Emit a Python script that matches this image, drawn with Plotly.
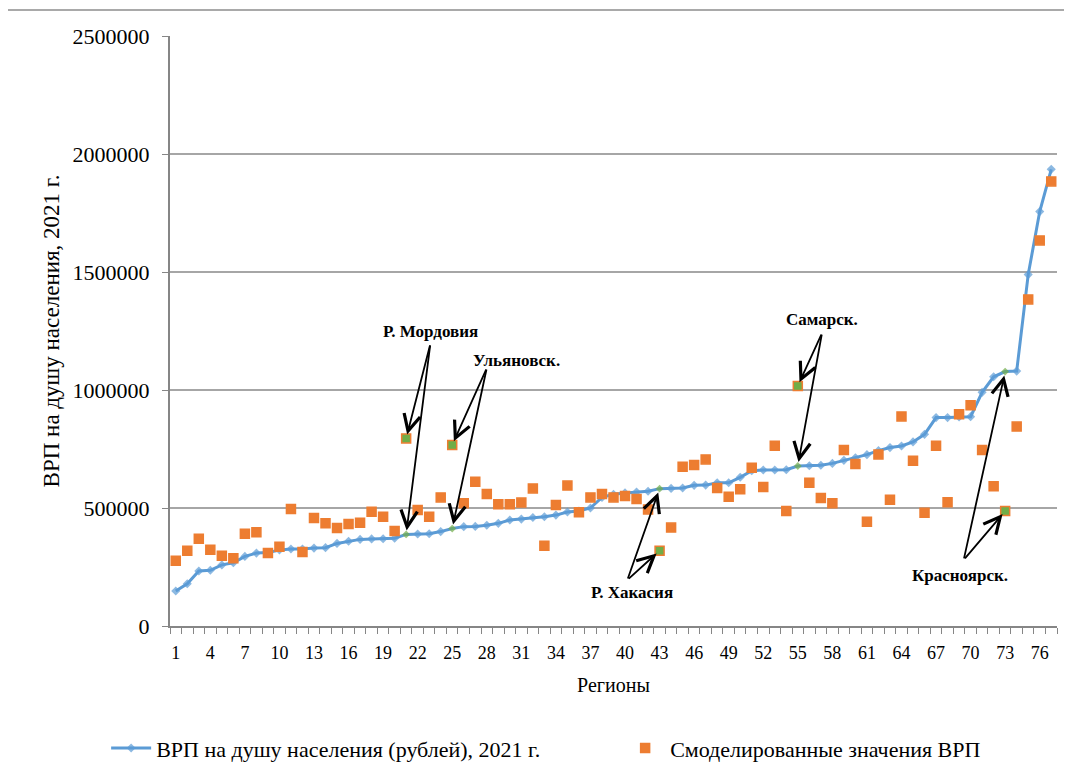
import plotly.graph_objects as go

# ---- data ----
regions = list(range(1, 78))

grp_actual = [148000, 179000, 233000, 236000, 259000, 268000, 295000, 309000, 311000, 322000,
              326000, 326000, 330000, 332000, 350000, 359000, 367000, 369000, 370000, 372000,
              388000, 390000, 391000, 400000, 413000, 421000, 422000, 427000, 435000, 449000,
              453000, 460000, 463000, 470000, 483000, 487000, 500000, 545000, 558000, 564000,
              568000, 571000, 582000, 583000, 585000, 596000, 597000, 607000, 607000, 630000,
              658000, 661000, 661000, 662000, 678000, 679000, 681000, 689000, 702000, 713000,
              726000, 743000, 756000, 763000, 780000, 812000, 883000, 883000, 886000, 887000,
              990000, 1056000, 1078000, 1080000, 1489000, 1756000, 1935000]

grp_model = [277000, 319000, 370000, 323000, 298000, 287000, 391000, 397000, 309000, 336000,
             496000, 314000, 458000, 435000, 415000, 432000, 438000, 484000, 463000, 403000,
             795000, 491000, 463000, 545000, 767000, 520000, 611000, 559000, 516000, 516000,
             523000, 583000, 340000, 513000, 595000, 482000, 545000, 559000, 545000, 551000,
             538000, 494000, 319000, 417000, 675000, 682000, 706000, 585000, 548000, 579000,
             671000, 589000, 764000, 487000, 1017000, 607000, 542000, 520000, 746000, 686000,
             442000, 727000, 535000, 888000, 700000, 480000, 764000, 524000, 897000, 935000,
             746000, 592000, 487000, 845000, 1384000, 1634000, 1884000]

highlight = {21: "Р. Мордовия", 25: "Ульяновск.", 43: "Р. Хакасия", 55: "Самарск.", 73: "Красноярск."}

x_tick_labels = [str(v) for v in range(1, 78, 3)]
y_tick_vals = [0, 500000, 1000000, 1500000, 2000000, 2500000]

BLUE = "#5B9BD5"
ORANGE = "#ED7D31"
GREEN = "#70AD47"
FONT = "Liberation Serif"

line_colors = [GREEN if r in highlight else BLUE for r in regions]
line_sizes = [6 if r in highlight else 7 for r in regions]
sq_colors = [GREEN if r in highlight else ORANGE for r in regions]

fig = go.Figure()
fig.add_trace(go.Scatter(
    x=regions, y=grp_actual, mode="lines+markers",
    name="ВРП на душу населения (рублей), 2021 г.",
    line=dict(color=BLUE, width=3),
    marker=dict(symbol="diamond", size=line_sizes, color=line_colors,
                line=dict(width=0)),
))
fig.add_trace(go.Scatter(
    x=regions, y=grp_model, mode="markers",
    name="Смоделированные значения ВРП",
    marker=dict(symbol="square", size=9, color=sq_colors,
                line=dict(color=ORANGE, width=1.5)),
))

# annotation label positions / arrow tails (data space)
label_pos = {21: (23.1, 1250000), 25: (30.6, 1123000), 43: (40.6, 144000),
             55: (57.1, 1297000), 73: (69.1, 216000)}
tail_pos = {21: (23.1, 1195000), 25: (28.0, 1093000), 43: (40.2, 195000),
            55: (57.1, 1241000), 73: (69.4, 280000)}

annotations = []
for r, name in highlight.items():
    lx, ly = label_pos[r]
    annotations.append(dict(x=lx, y=ly, xref="x", yref="y", text="<b>" + name + "</b>",
                            showarrow=False, font=dict(family=FONT, size=17, color="black")))
    tx, ty = tail_pos[r]
    for val in (grp_actual[r - 1], grp_model[r - 1]):
        annotations.append(dict(x=r, y=val, xref="x", yref="y", ax=tx, ay=ty,
                                axref="x", ayref="y", text="", showarrow=True,
                                arrowhead=5, arrowsize=1.8, arrowwidth=1.8,
                                arrowcolor="black", standoff=4))

fig.update_layout(
    width=1064, height=767,
    margin=dict(l=162, r=15, t=28, b=149, autoexpand=False),
    paper_bgcolor="white", plot_bgcolor="white",
    font=dict(family=FONT, color="black"),
    showlegend=True,
    legend=dict(orientation="h", x=-0.072, xanchor="left", y=-0.207, yanchor="middle",
                font=dict(family=FONT, size=22), entrywidth=459, itemwidth=40,
                bgcolor="rgba(0,0,0,0)"),
    annotations=annotations,
    shapes=[dict(type="line", xref="paper", yref="paper", x0=-0.2, x1=1.02,
                 y0=1.044, y1=1.044, line=dict(color="#8c8c8c", width=1.5))],
)

fig.update_xaxes(
    automargin=False,
    range=[0.5, 77.5], tickmode="array", tickvals=list(range(1, 78, 3)),
    ticktext=x_tick_labels, ticks="", ticklabelstandoff=9,
    tickfont=dict(family=FONT, size=18),
    showgrid=False, zeroline=False, showline=True, linecolor="#868686", linewidth=2,
    minor=dict(tickmode="linear", tick0=0.5, dtick=1, ticks="outside", ticklen=6,
               tickcolor="#868686", tickwidth=1, showgrid=False),
    title=dict(text="Регионы", font=dict(family=FONT, size=20), standoff=16),
)
fig.update_yaxes(
    automargin=False,
    range=[0, 2500000], tickmode="array", tickvals=y_tick_vals,
    ticktext=[str(v) for v in y_tick_vals], ticks="outside", ticklen=6,
    tickcolor="#868686", ticklabelstandoff=8,
    tickfont=dict(family=FONT, size=22),
    showgrid=True, gridcolor="#a6a6a6", gridwidth=1.5, zeroline=False,
    showline=True, linecolor="#868686", linewidth=2,
    title=dict(text="ВРП на душу населения, 2021 г.", font=dict(family=FONT, size=23),
               standoff=7),
)

fig.write_html("out.html")
